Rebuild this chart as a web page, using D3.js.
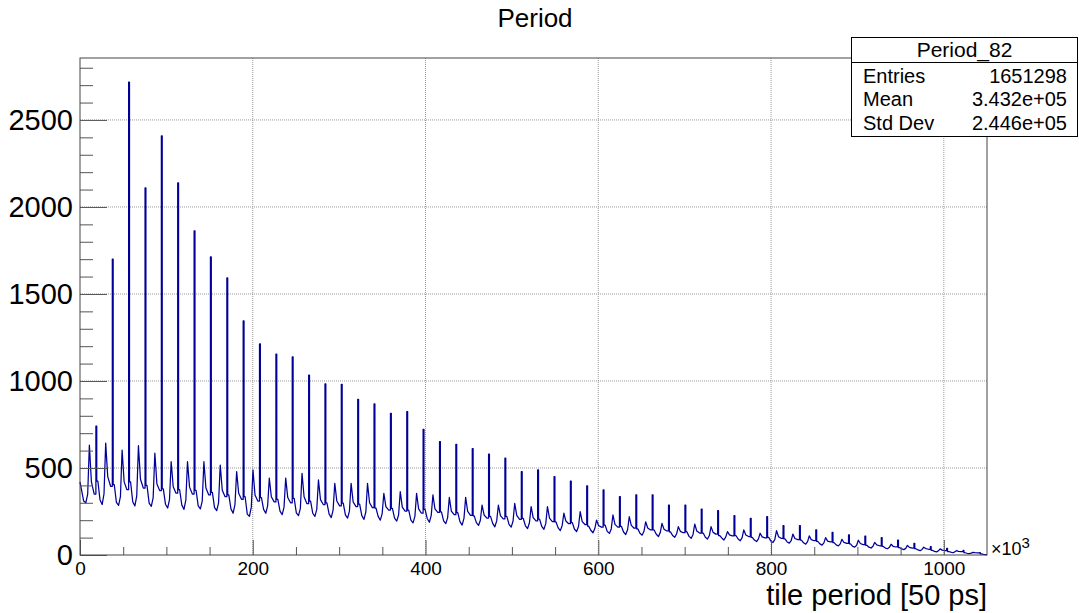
<!DOCTYPE html>
<html>
  <head>
    <meta charset="utf-8">
    <title>Period</title>
    <script src="https://cdn.jsdelivr.net/npm/d3@7"></script>
    <style>
      body { margin: 0; background: #fff; }
      svg { font-family: "Liberation Sans", Arial, Helvetica, sans-serif; }
      .yAxis text { font-size: 29px; fill: #000; }
      .xAxis text { font-size: 19px; fill: #000; }
      .tick line { stroke: #555; }
      .grid line { stroke: #999; stroke-dasharray: 1,1; }
    </style>
  </head>
  <body>
    <svg id="chart" width="1079" height="613"></svg>

    <script>
      // histogram "Period_82": tall spikes plus a noisy floor with one bump per period
      // spike positions (x10^3, tile period) and their counts
      spikeX = [18.9, 37.9, 56.8, 75.8, 94.7, 113.6, 132.6, 151.5, 170.5, 189.4, 208.3, 227.3, 246.2, 265.2, 284.1,
        303.0, 322.0, 340.9, 359.9, 378.8, 397.7, 416.7, 435.6, 454.6, 473.5, 492.4, 511.4, 530.3, 549.3, 568.2,
        587.1, 606.1, 625.0, 644.0, 662.9, 681.8, 700.8, 719.7, 738.7, 757.6, 776.5, 795.5, 814.4, 833.4, 852.3,
        871.2, 890.2, 909.1, 928.1, 947.0, 965.9, 984.9, 1003.8, 1022.8, 1041.7];
      spikeY = [741, 1700, 2718, 2109, 2408, 2138, 1862, 1713, 1592, 1345, 1213, 1155, 1138, 1034, 983,
        981, 895, 868, 814, 824, 722, 651, 636, 611, 579, 556, 479, 489, 450, 425,
        397, 374, 335, 345, 345, 287, 287, 264, 255, 226, 211, 220, 169, 169, 145,
        130, 115, 108, 100, 86, 67, 48, 38, 26, 14];

      // bins between two spikes, offsets from the previous spike
      binOffsets = [0.5, 3.0, 5.5, 8.0, 9.8, 11.9, 14.5];
      // counts in those bins, one entry per period (period 0 starts at 0)
      postSpike = [420, 425, 405, 420, 400, 380, 375, 372, 360, 345, 335, 330, 320, 325, 310, 300, 298, 292, 270, 268,
        258, 262, 248, 244, 225, 222, 222, 210, 206, 190, 186, 166, 172, 165, 150, 144, 133, 134, 126, 112,
        112, 101, 102, 92, 86, 78, 71, 64, 56, 49, 43, 36, 27, 20, 13, 6];
      floorLevel = [310, 318, 302, 306, 298, 292, 288, 282, 272, 265, 235, 262, 252, 242, 240, 236, 230, 226, 222, 212,
        200, 210, 196, 192, 186, 182, 176, 168, 164, 156, 148, 142, 136, 132, 125, 119, 112, 107, 102, 98,
        92, 86, 80, 75, 70, 64, 58, 50, 45, 40, 35, 29, 21, 16, 10, 3];
      dipLevel = [300, 290, 285, 282, 280, 270, 262, 265, 255, 240, 222, 240, 232, 226, 222, 215, 212, 205, 200, 195,
        185, 188, 180, 172, 170, 162, 160, 152, 148, 140, 135, 128, 124, 118, 114, 106, 102, 96, 92, 86,
        82, 77, 72, 68, 62, 57, 52, 45, 40, 36, 31, 25, 18, 13, 8, 2];
      riseLevel = [350, 352, 335, 340, 330, 318, 315, 310, 300, 290, 275, 282, 275, 268, 262, 258, 252, 248, 238, 230,
        222, 228, 215, 210, 200, 196, 194, 185, 180, 170, 164, 152, 150, 145, 136, 130, 122, 118, 112, 104,
        100, 93, 90, 82, 77, 70, 64, 56, 50, 44, 38, 32, 24, 18, 11, 2];
      bumpLevel = [632, 643, 603, 628, 586, 536, 536, 536, 517, 479, 489, 442, 442, 469, 431, 412, 412, 412, 354, 364,
        354, 345, 331, 331, 287, 287, 297, 278, 278, 240, 249, 201, 230, 220, 191, 182, 163, 178, 163, 134,
        144, 125, 140, 120, 110, 100, 90, 85, 72, 62, 55, 45, 35, 25, 15, 2];
      fallLevel = [420, 450, 420, 435, 410, 392, 390, 385, 372, 355, 345, 335, 330, 335, 318, 310, 305, 300, 278, 275,
        265, 265, 252, 250, 230, 226, 228, 215, 212, 195, 192, 170, 176, 170, 155, 148, 136, 138, 130, 116,
        115, 104, 105, 95, 88, 80, 72, 66, 58, 50, 44, 37, 28, 21, 13, 1];
      preSpike = [350, 395, 375, 385, 370, 355, 350, 345, 335, 320, 310, 305, 300, 295, 290, 282, 278, 272, 258, 252,
        240, 245, 232, 228, 212, 208, 205, 196, 192, 180, 175, 160, 160, 154, 144, 138, 128, 126, 120, 110,
        106, 98, 95, 88, 82, 75, 67, 60, 53, 46, 40, 33, 25, 19, 12, 1];

      // axis ticks
      xMajor = [0, 200, 400, 600, 800, 1000];
      yMajor = [0, 500, 1000, 1500, 2000, 2500];
      xMax = 1050;
      yMax = 2856;

      // stats box
      statsTitle = "Period_82";
      statsNames = ["Entries", "Mean", "Std Dev"];
      statsValues = ["1651298", "3.432e+05", "2.446e+05"];

      // build bins
      bins = [];
      for (k = 0; k < postSpike.length; k++) {
        start = k == 0 ? 0 : spikeX[k - 1];
        end = k < spikeX.length ? spikeX[k] - 0.5 : xMax + 10;
        vals = [postSpike[k], floorLevel[k], dipLevel[k], riseLevel[k], bumpLevel[k], fallLevel[k], preSpike[k]];
        for (i = 0; i < vals.length; i++) {
          x0 = (k == 0 && i == 0) ? 0 : start + binOffsets[i];
          x1 = i < vals.length - 1 ? start + binOffsets[i + 1] : end;
          bins.push({ x0: x0, x1: x1, v: vals[i], spike: false });
        }
        if (k < spikeX.length) {
          bins.push({ x0: spikeX[k] - 0.5, x1: spikeX[k] + 0.5, v: spikeY[k], spike: true });
        }
      }
      bins = bins.filter(b => b.x0 < xMax)
        .map(b => ({ x0: b.x0, x1: Math.min(b.x1, xMax), v: b.v, spike: b.spike }));

      // outline: bin centres joined, spikes drawn as one-bin columns
      points = [[0, bins[0].v]];
      bins.forEach((b, i) => {
        if (b.spike) {
          prev = bins[i - 1].v;
          next = i + 1 < bins.length ? bins[i + 1].v : b.v;
          points.push([b.x0, prev], [b.x0, b.v], [b.x1, b.v], [b.x1, next]);
        } else if (i > 0) {
          points.push([(b.x0 + b.x1) / 2, b.v]);
        }
      });
      points.push([xMax, bins[bins.length - 1].v]);

      // layout
      chart = d3.select("#chart");
      margin = { top: 58, right: 92, bottom: 58, left: 80 };
      width = 1079;
      height = 613;

      x = d3.scaleLinear().domain([0, xMax]).range([margin.left, width - margin.right]);
      y = d3.scaleLinear().domain([0, yMax]).range([height - margin.bottom, margin.top]);

      // grid
      grid = chart.append("g").attr("class", "grid");
      grid.selectAll(".gx").data(xMajor.filter(d => d > 0)).join("line")
        .attr("x1", d => x(d)).attr("x2", d => x(d))
        .attr("y1", y(0)).attr("y2", y(yMax));
      grid.selectAll(".gy").data(yMajor.filter(d => d > 0)).join("line")
        .attr("class", "gy")
        .attr("x1", x(0)).attr("x2", x(xMax))
        .attr("y1", d => y(d)).attr("y2", d => y(d));

      // histogram outline
      line = d3.line().x(d => x(d[0])).y(d => y(d[1]));
      chart.append("path")
        .attr("d", line(points))
        .attr("fill", "none")
        .attr("stroke", "#000099")
        .attr("stroke-width", 1.25)
        .attr("stroke-linejoin", "round");

      // axes, ticks pointing inward
      yMinor = d3.range(0, yMax, 100).filter(d => d % 500 != 0);
      xMinor = d3.range(0, xMax, 50).filter(d => d % 200 != 0);
      fmt = d3.format("d");

      chart.append("g").attr("class", "yAxis")
        .attr("transform", "translate(" + x(0) + ",0)")
        .call(d3.axisLeft(y).tickValues(yMajor).tickSize(-27).tickPadding(7).tickFormat(fmt))
        .call(g => g.select(".domain").remove());
      chart.append("g").attr("class", "yAxis")
        .attr("transform", "translate(" + x(0) + ",0)")
        .call(d3.axisLeft(y).tickValues(yMinor).tickSize(-13).tickFormat(""))
        .call(g => g.select(".domain").remove());
      chart.append("g").attr("class", "xAxis")
        .attr("transform", "translate(0," + y(0) + ")")
        .call(d3.axisBottom(x).tickValues(xMajor).tickSize(-15).tickPadding(7).tickFormat(fmt))
        .call(g => g.select(".domain").remove());
      chart.append("g").attr("class", "xAxis")
        .attr("transform", "translate(0," + y(0) + ")")
        .call(d3.axisBottom(x).tickValues(xMinor).tickSize(-8).tickFormat(""))
        .call(g => g.select(".domain").remove());

      // frame
      chart.append("rect")
        .attr("x", x(0)).attr("y", y(yMax))
        .attr("width", x(xMax) - x(0)).attr("height", y(0) - y(yMax))
        .attr("fill", "none").attr("stroke", "#444");

      // titles
      chart.append("text")
        .attr("x", 535).attr("y", 27)
        .attr("text-anchor", "middle")
        .style("font-size", "26px")
        .text("Period");
      chart.append("text")
        .attr("x", x(xMax)).attr("y", 605)
        .attr("text-anchor", "end")
        .style("font-size", "29px")
        .text("tile period [50 ps]");
      exponent = chart.append("text")
        .attr("x", x(xMax) + 4).attr("y", y(0))
        .style("font-size", "18px")
        .text("\u00d710");
      exponent.append("tspan")
        .attr("dy", -7)
        .style("font-size", "15px")
        .text("3");

      // stats box
      box = chart.append("g");
      box.append("rect")
        .attr("x", 851.5).attr("y", 37.5)
        .attr("width", 226).attr("height", 99)
        .attr("fill", "#fff").attr("stroke", "#000");
      box.append("line")
        .attr("x1", 851.5).attr("x2", 1077.5)
        .attr("y1", 62.5).attr("y2", 62.5)
        .attr("stroke", "#000");
      box.append("text")
        .attr("x", 964.5).attr("y", 57)
        .attr("text-anchor", "middle")
        .style("font-size", "21px")
        .text(statsTitle);
      rowY = [82.5, 106, 129.5];
      box.selectAll(".sn").data(statsNames).join("text")
        .attr("x", 863).attr("y", (d, i) => rowY[i])
        .style("font-size", "20px")
        .text(d => d);
      box.selectAll(".sv").data(statsValues).join("text")
        .attr("x", 1067).attr("y", (d, i) => rowY[i])
        .attr("text-anchor", "end")
        .style("font-size", "20px")
        .text(d => d);
    </script>
  </body>
</html>
